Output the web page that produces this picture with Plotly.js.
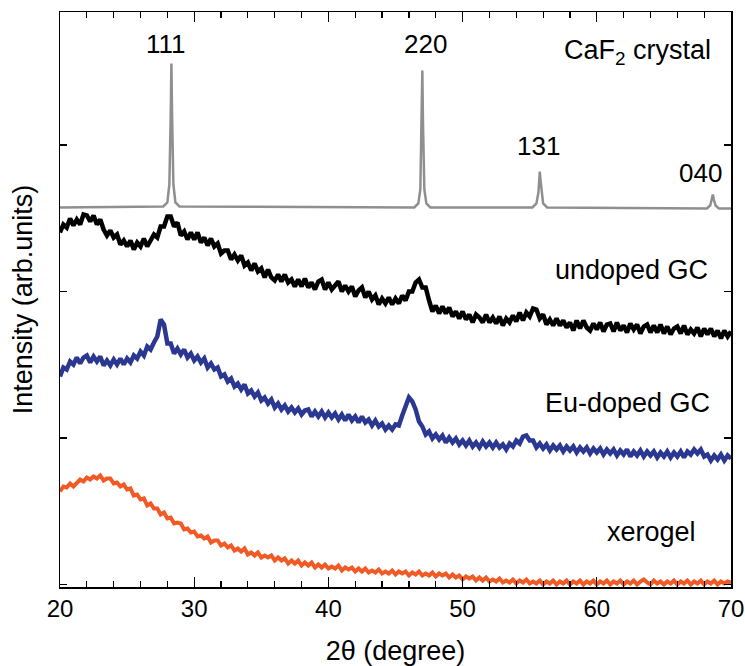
<!DOCTYPE html>
<html>
<head>
<meta charset="utf-8">
<script src="https://cdn.plot.ly/plotly-3.0.1.min.js"></script>
<style>
  html, body { margin: 0; padding: 0; background: #fff; }
  #chart { width: 745px; height: 666px; }
</style>
</head>
<body>
<div id="chart"></div>
<script>
// 2θ scan grid for the measured patterns (degrees)
const thetaStart = 20;
const thetaStep = 0.25;

// Undoped glass-ceramic (arb. units, offset for display)
const undopedGC = [
  352,360,357,366,359,365,360,370,369,363,
  369,360,365,355,349,354,347,350,340,344,
  338,344,335,342,338,346,338,345,350,347,
  358,358,368,368,358,362,349,353,345,352,
  345,352,342,347,339,346,338,341,331,334,
  334,325,330,324,329,319,322,314,321,313,
  316,307,315,307,304,310,303,310,302,305,
  298,305,298,306,297,302,295,303,305,295,
  302,295,300,303,293,299,293,298,288,294,
  297,287,293,285,289,280,286,281,287,280,
  286,281,289,284,293,293,302,305,297,297,
  284,273,279,271,278,271,277,268,273,266,
  273,265,270,262,270,267,262,270,262,267,
  261,268,259,266,262,269,263,272,264,272,
  268,276,275,266,270,260,265,259,266,259,
  264,257,262,254,264,256,264,257,254,261,
  255,262,253,260,261,253,262,254,259,252,
  261,255,260,251,258,260,252,259,252,260,
  251,258,250,256,258,251,259,250,255,251,
  257,248,256,250,256,248,254,246,254,248,253
];

// Eu-doped glass-ceramic
const euDopedGC = [
  208,217,215,223,220,227,221,227,229,222,
  228,223,228,219,224,219,225,220,226,220,
  226,222,229,226,233,229,238,235,242,248,
  265,260,241,241,231,236,230,235,227,231,
  224,228,222,226,217,221,215,217,208,210,
  203,206,198,201,195,200,191,194,188,192,
  184,187,181,185,177,181,175,179,173,177,
  172,176,170,174,175,168,173,168,173,167,
  172,167,171,165,170,164,170,164,168,162,
  168,162,165,159,164,158,161,155,159,155,
  160,159,169,178,187,183,175,163,158,150,
  153,146,150,145,149,142,147,142,146,140,
  144,139,144,138,142,137,143,138,142,137,
  142,137,140,135,141,138,144,141,148,149,
  144,144,137,141,136,140,134,139,135,139,
  133,138,134,138,132,137,133,137,131,136,
  132,136,130,135,131,135,129,134,130,135,
  128,133,129,134,128,133,129,133,127,132,
  128,133,127,132,128,133,127,133,130,135,
  131,135,128,130,124,129,125,130,124,129,126
];

// Xerogel
const xerogel = [
  93,98,97,101,98,102,105,103,107,105,
  108,106,109,104,106,106,101,102,98,100,
  95,96,89,90,85,86,79,81,76,76,
  70,72,66,67,61,62,61,55,56,52,
  53,48,49,46,48,42,44,44,39,41,
  37,39,34,36,33,36,30,32,29,32,
  27,29,27,29,24,27,24,26,21,24,
  21,24,19,22,19,22,17,20,17,20,
  16,18,16,19,14,17,15,17,13,16,
  13,16,12,14,12,15,11,13,11,14,
  10,13,11,13,9,12,10,13,9,11,
  9,12,8,11,9,11,7,10,7,9,
  5,8,6,8,4,7,4,7,3,5,
  3,6,2,4,2,5,1,4,2,5,
  1,3,1,4,0,3,1,4,0,3,
  1,4,0,3,1,4,0,3,1,4,
  0,3,1,4,0,3,1,4,0,3,
  1,4,0,3,5,2,0,4,1,3,
  0,3,1,4,0,3,1,4,0,3,
  1,4,0,3,1,4,0,3,1,3,2
];

// CaF2 reference crystal pattern
const caf2Theta = [20, 27.7, 28.0, 28.15, 28.25, 28.3, 28.35, 28.45, 28.6, 28.9,
  46.4, 46.7, 46.85, 46.95, 47.0, 47.05, 47.15, 47.3, 47.6,
  55.2, 55.5, 55.65, 55.72, 55.75, 55.8, 55.88, 56.0, 56.3,
  68.2, 68.45, 68.58, 68.65, 68.72, 68.85, 69.1, 70];
const caf2Intensity = [377, 378, 382, 400, 470, 521, 470, 400, 382, 378,
  377, 381, 395, 460, 514, 460, 395, 381, 377,
  377, 381, 392, 405, 413, 405, 392, 381, 377,
  376, 379, 385, 390, 385, 379, 376, 376];

// Reflection indices and sample labels
const peakLabels = ['111', '220', '131', '040'];
const peakLabelX = [27.93, 47.2, 55.63, 67.7];
const peakLabelY = [541, 541, 439, 412];
const sampleLabels = ['CaF<sub>2</sub> crystal', 'undoped GC', 'Eu-doped GC', 'xerogel'];
const sampleLabelX = [63.0, 62.55, 62.3, 64.1];
const sampleLabelY = [533, 315, 182, 53];

const font = { family: 'Liberation Sans, Arial, sans-serif', color: '#000' };
const withSize = s => Object.assign({ size: s }, font);

const traces = [
  { x: caf2Theta, y: caf2Intensity, mode: 'lines',
    line: { color: '#8f8f8f', width: 2.5 } },
  { x0: thetaStart, dx: thetaStep, y: undopedGC, mode: 'lines',
    line: { color: '#000000', width: 4.5 } },
  { x0: thetaStart, dx: thetaStep, y: euDopedGC, mode: 'lines',
    line: { color: '#2b3892', width: 4.5 } },
  { x0: thetaStart, dx: thetaStep, y: xerogel, mode: 'lines',
    line: { color: '#f15a24', width: 4 } }
];

const annotations = [];
peakLabels.forEach((t, i) => annotations.push({
  x: peakLabelX[i], y: peakLabelY[i], text: t, showarrow: false,
  xanchor: 'center', yanchor: 'middle', font: withSize(26)
}));
sampleLabels.forEach((t, i) => annotations.push({
  x: sampleLabelX[i], y: sampleLabelY[i], text: t, showarrow: false,
  xanchor: 'center', yanchor: 'middle', font: withSize(27)
}));

const layout = {
  width: 745, height: 666,
  margin: { l: 60, r: 14, t: 12, b: 79 },
  paper_bgcolor: '#fff', plot_bgcolor: '#fff',
  showlegend: false,
  font: withSize(24),
  xaxis: {
    range: [20, 70], tick0: 20, dtick: 10,
    ticks: 'inside', ticklen: 10, tickwidth: 1.2, tickcolor: '#000',
    minor: { dtick: 2, ticks: 'inside', ticklen: 6, tickwidth: 1.2, tickcolor: '#000' },
    showline: true, linecolor: '#000', linewidth: 1.5, mirror: 'ticks',
    showgrid: false, zeroline: false,
    tickfont: withSize(24),
    title: { text: '2θ (degree)', font: withSize(27), standoff: 21 }
  },
  yaxis: {
    range: [-2.5, 572.5], tick0: 0, dtick: 146.5,
    ticks: 'inside', ticklen: 7, tickwidth: 1.2, tickcolor: '#000',
    showticklabels: false,
    showline: true, linecolor: '#000', linewidth: 1.5, mirror: 'ticks',
    showgrid: false, zeroline: false,
    title: { text: 'Intensity (arb.units)', font: withSize(27), standoff: 18 }
  },
  annotations: annotations
};

Plotly.newPlot('chart', traces, layout, { displayModeBar: false, staticPlot: true });
</script>
</body>
</html>
